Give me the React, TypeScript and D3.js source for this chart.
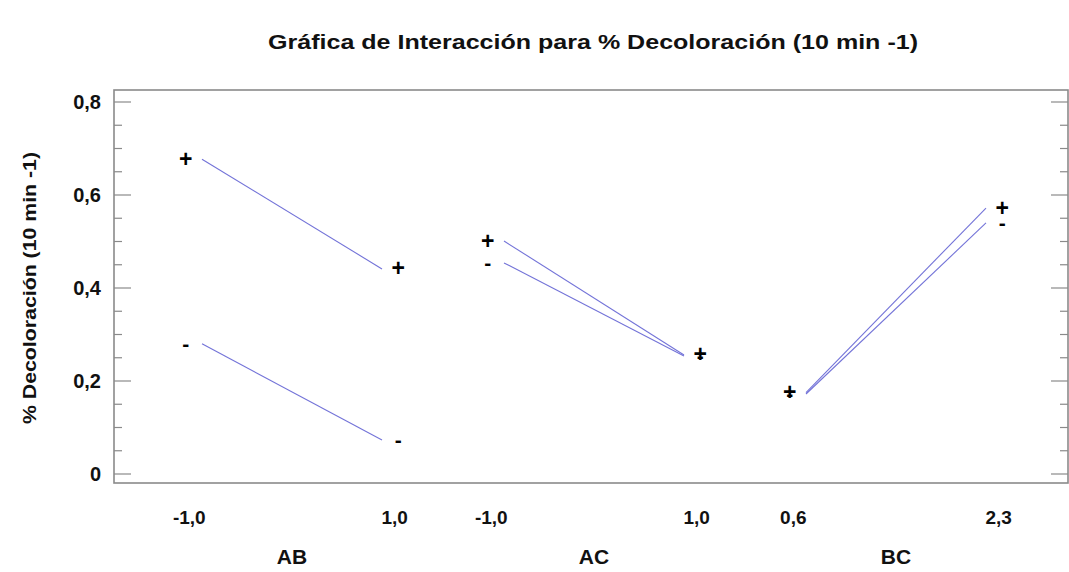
import React from "react";
import * as d3 from "d3";

const title = "Gráfica de Interacción para % Decoloración (10 min -1)";
const yTitle = "% Decoloración (10 min -1)";
const groups = ["AB", "AC", "BC"];
const lowLabels = ["-1,0", "-1,0", "0,6"];
const highLabels = ["1,0", "1,0", "2,3"];
const plusLow = [0.677, 0.501, 0.175];
const plusHigh = [0.441, 0.256, 0.572];
const minusLow = [0.28, 0.454, 0.172];
const minusHigh = [0.073, 0.254, 0.54];
const yTicks = [0, 0.2, 0.4, 0.6, 0.8];

const W = 1069;
const H = 572;
const box = { left: 114, right: 1068, top: 90, bottom: 483 };

export default function App() {
  const y = d3.scaleLinear().domain([0, 0.8]).range([474, 102]);
  const x = d3.scaleLinear().domain([0, 2]).range([292, 896]);
  const lineOff = 0.298;
  const markOff = 0.352;
  const labOff = 0.34;
  const minor = d3.range(0, 0.8001, 0.05);
  const font = "'Liberation Sans', Arial, sans-serif";
  const lineColor = "#7373d8";

  return (
    <svg
      width={W}
      height={H}
      style={{ position: "fixed", left: 0, top: 0, background: "#fff" }}
      fontFamily={font}
    >
      <rect x={0} y={0} width={W} height={H} fill="#fff" />
      <text
        x={593}
        y={49}
        textAnchor="middle"
        fontSize={20}
        fontWeight="bold"
        fill="#111"
        textLength={650}
        lengthAdjust="spacingAndGlyphs"
      >
        {title}
      </text>
      <rect
        x={box.left}
        y={box.top}
        width={box.right - box.left}
        height={box.bottom - box.top}
        fill="none"
        stroke="#8a8a8a"
        strokeWidth={1.6}
      />
      {minor.map((v, i) => {
        const major = i % 4 === 0;
        const len = major ? 17 : 8;
        return (
          <g key={"t" + i}>
            <line x1={box.left} x2={box.left + len} y1={y(v)} y2={y(v)} stroke="#8a8a8a" strokeWidth={1.2} />
            <line x1={box.right - len} x2={box.right} y1={y(v)} y2={y(v)} stroke="#8a8a8a" strokeWidth={1.2} />
          </g>
        );
      })}
      {yTicks.map((v) => (
        <text key={"yl" + v} x={101} y={y(v) + 7} textAnchor="end" fontSize={20} fontWeight="bold" fill="#111">
          {v === 0 ? "0" : d3.format(".1f")(v).replace(".", ",")}
        </text>
      ))}
      <text
        transform={`translate(36,${288}) rotate(-90)`}
        textAnchor="middle"
        fontSize={19}
        fontWeight="bold"
        fill="#111"
        textLength={272}
        lengthAdjust="spacingAndGlyphs"
      >
        {yTitle}
      </text>
      {groups.map((g, i) => (
        <g key={g}>
          <text x={x(i - labOff)} y={524} textAnchor="middle" fontSize={19} fontWeight="bold" fill="#111">
            {lowLabels[i]}
          </text>
          <text x={x(i + labOff)} y={524} textAnchor="middle" fontSize={19} fontWeight="bold" fill="#111">
            {highLabels[i]}
          </text>
          <text x={x(i)} y={564} textAnchor="middle" fontSize={21} fontWeight="bold" fill="#111">
            {g}
          </text>
        </g>
      ))}
      {groups.map((g, i) => (
        <g key={"l" + g}>
          <line x1={x(i - lineOff)} x2={x(i + lineOff)} y1={y(minusLow[i])} y2={y(minusHigh[i])} stroke={lineColor} strokeWidth={1.1} />
          <line x1={x(i - lineOff)} x2={x(i + lineOff)} y1={y(plusLow[i])} y2={y(plusHigh[i])} stroke={lineColor} strokeWidth={1.1} />
        </g>
      ))}
      {groups.map((g, i) => (
        <g key={"m" + g} fontWeight="bold" fill="#000" textAnchor="middle">
          <text x={x(i - markOff)} y={y(minusLow[i]) + 7} fontSize={21}>-</text>
          <text x={x(i + markOff)} y={y(minusHigh[i]) + 7} fontSize={21}>-</text>
          <text x={x(i - markOff)} y={y(plusLow[i]) + 7.5} fontSize={23}>+</text>
          <text x={x(i + markOff)} y={y(plusHigh[i]) + 7.5} fontSize={23}>+</text>
        </g>
      ))}
    </svg>
  );
}
